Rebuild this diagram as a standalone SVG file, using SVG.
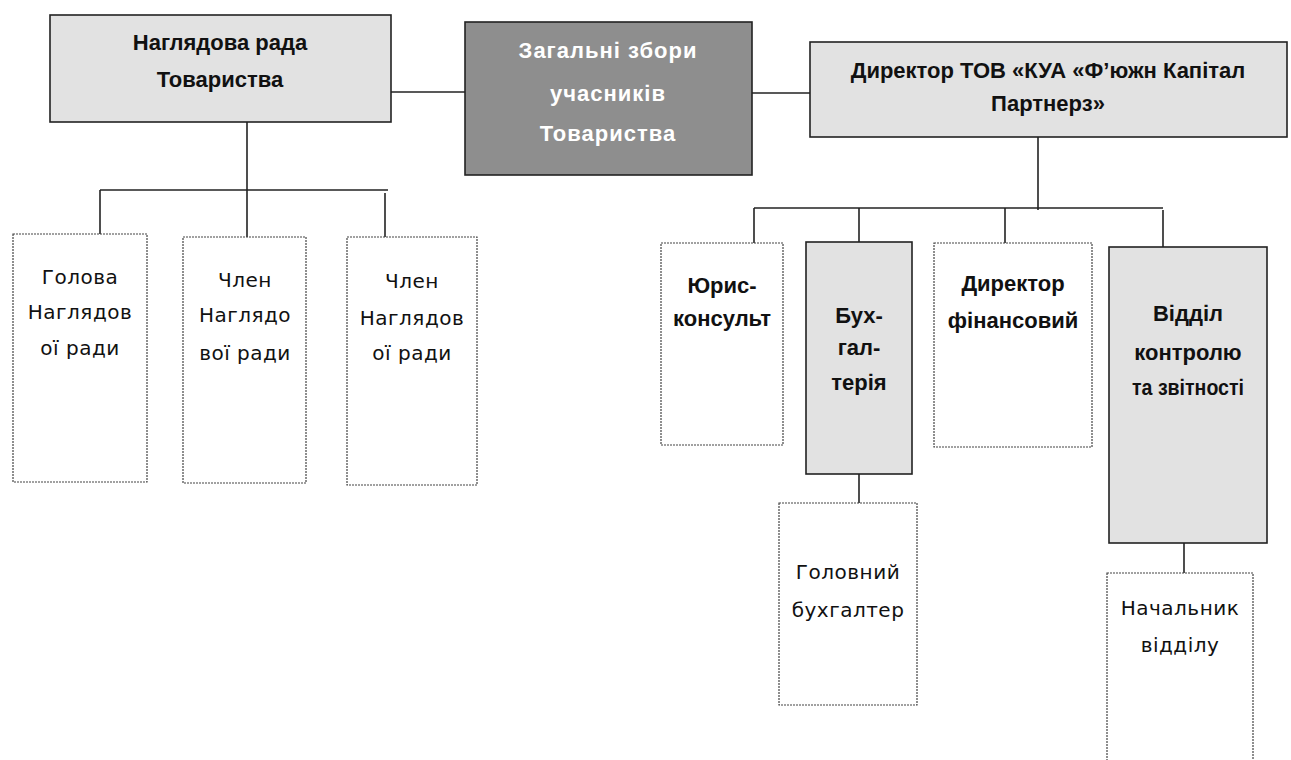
<svg xmlns="http://www.w3.org/2000/svg" width="1291" height="760" viewBox="0 0 1291 760">
<style>
.grey{fill:#e2e2e2;stroke:#222;stroke-width:1.6}
.dark{fill:#8e8e8e;stroke:#222;stroke-width:1.6}
.white{fill:#fff;stroke:#444;stroke-width:1.2;stroke-dasharray:2 1}
.b{font-family:"Liberation Sans","DejaVu Sans",sans-serif;font-weight:bold;font-size:22px;fill:#111;text-anchor:middle}
.bw{font-family:"Liberation Sans","DejaVu Sans",sans-serif;font-weight:bold;font-size:22px;fill:#fff;text-anchor:middle;letter-spacing:1px}
.r{font-family:"DejaVu Sans","Liberation Sans",sans-serif;font-size:20px;fill:#111;text-anchor:middle;letter-spacing:0.5px}
.c{fill:none;stroke:#222;stroke-width:1.6}
</style>
<rect width="1291" height="760" fill="#fff"/>
<g id="connectors">
<path class="c" d="M391 92 H465"/>
<path class="c" d="M752 93 H810"/>
<path class="c" d="M247 122 V240"/>
<path class="c" d="M100 190 H388"/>
<path class="c" d="M100 190 V234"/>
<path class="c" d="M385 193 V237"/>
<path class="c" d="M1038 137 V210"/>
<path class="c" d="M754 208 H1163"/>
<path class="c" d="M754 208 V243"/>
<path class="c" d="M859 208 V242"/>
<path class="c" d="M1005 208 V243"/>
<path class="c" d="M1163 210 V247"/>
<path class="c" d="M859 474 V503"/>
<path class="c" d="M1184 543 V573"/>
</g>
<g id="n-nahliadova">
<rect class="grey" x="50" y="15" width="341" height="107"/>
<text class="b" x="220" y="50">Наглядова рада</text>
<text class="b" x="220" y="87">Товариства</text>
</g>
<g id="n-zahalni">
<rect class="dark" x="465" y="22" width="287" height="153"/>
<text class="bw" x="608" y="58">Загальні збори</text>
<text class="bw" x="608" y="101">учасників</text>
<text class="bw" x="608" y="141">Товариства</text>
</g>
<g id="n-dyrektor">
<rect class="grey" x="810" y="42" width="477" height="95"/>
<text class="b" x="1048" y="78">Директор ТОВ «КУА «Ф’южн Капітал</text>
<text class="b" x="1048" y="111">Партнерз»</text>
</g>
<g id="n-holova">
<rect class="white" x="13" y="234" width="134" height="248"/>
<text class="r" x="80" y="284">Голова</text>
<text class="r" x="80" y="319">Наглядов</text>
<text class="r" x="80" y="355">ої ради</text>
</g>
<g id="n-chlen1">
<rect class="white" x="183" y="237" width="123" height="246"/>
<text class="r" x="245" y="287">Член</text>
<text class="r" x="245" y="322">Наглядо</text>
<text class="r" x="245" y="360">вої ради</text>
</g>
<g id="n-chlen2">
<rect class="white" x="347" y="237" width="130" height="248"/>
<text class="r" x="412" y="288">Член</text>
<text class="r" x="412" y="325">Наглядов</text>
<text class="r" x="412" y="360">ої ради</text>
</g>
<g id="n-yurys">
<rect class="white" x="661" y="243" width="122" height="202"/>
<text class="b" x="722" y="293">Юрис-</text>
<text class="b" x="722" y="326">консульт</text>
</g>
<g id="n-bukh">
<rect class="grey" x="806" y="242" width="106" height="232"/>
<text class="b" x="859" y="323">Бух-</text>
<text class="b" x="859" y="355">гал-</text>
<text class="b" x="859" y="390">терія</text>
</g>
<g id="n-fin">
<rect class="white" x="934" y="243" width="158" height="204"/>
<text class="b" x="1013" y="291">Директор</text>
<text class="b" x="1013" y="328">фінансовий</text>
</g>
<g id="n-viddil">
<rect class="grey" x="1109" y="247" width="158" height="296"/>
<text class="b" x="1188" y="321">Відділ</text>
<text class="b" x="1188" y="360">контролю</text>
<text class="b" x="1188" y="395" textLength="112" lengthAdjust="spacingAndGlyphs">та звітності</text>
</g>
<g id="n-holovnyi">
<rect class="white" x="779" y="503" width="138" height="202"/>
<text class="r" x="848" y="579">Головний</text>
<text class="r" x="848" y="617">бухгалтер</text>
</g>
<g id="n-nachalnyk">
<rect class="white" x="1107" y="573" width="146" height="200"/>
<text class="r" x="1180" y="615">Начальник</text>
<text class="r" x="1180" y="652">відділу</text>
</g>
</svg>
